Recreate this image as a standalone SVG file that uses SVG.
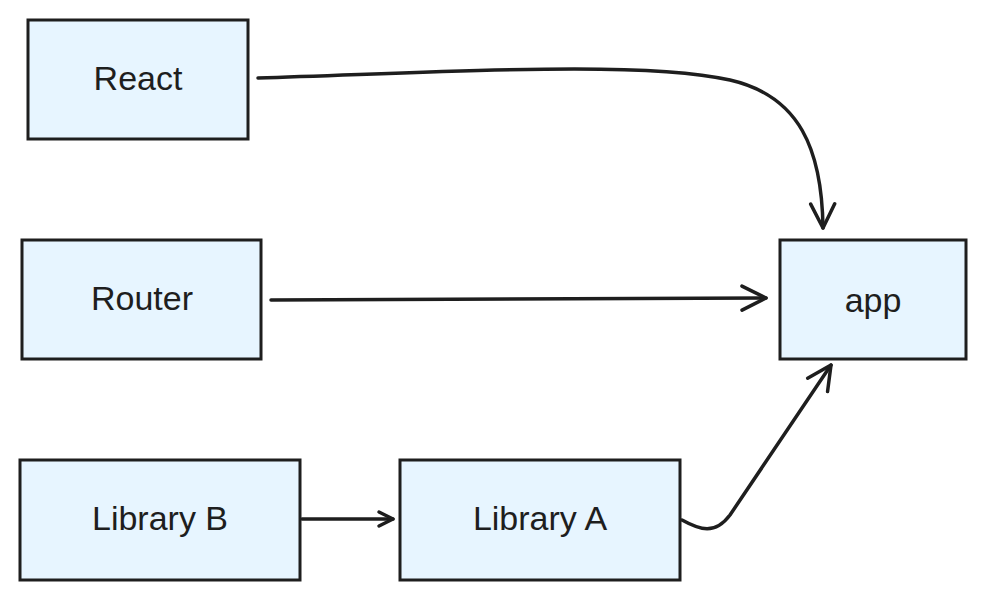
<svg xmlns="http://www.w3.org/2000/svg" width="985" height="600" viewBox="0 0 985 600">
<style>
.box{fill:#e7f5ff;stroke:#1e1e1e;stroke-width:3}
.lbl{font-family:"Liberation Sans",Arial,sans-serif;font-size:34px;fill:#1e1e1e;text-anchor:middle;dominant-baseline:central}
.con{fill:none;stroke:#1e1e1e;stroke-width:3.5;stroke-linecap:round;stroke-linejoin:round}
</style>
<defs>
<marker id="ah" viewBox="0 0 30 30" refX="26" refY="15" markerWidth="30" markerHeight="30" markerUnits="userSpaceOnUse" orient="auto">
<path d="M2,3 L26,15 L2,27" fill="none" stroke="#1e1e1e" stroke-width="3.5" stroke-linecap="round" stroke-linejoin="round"/>
</marker>
<marker id="ahs" viewBox="0 0 20 20" refX="17" refY="10" markerWidth="20" markerHeight="20" markerUnits="userSpaceOnUse" orient="auto">
<path d="M3,3 L17,10 L3,17" fill="none" stroke="#1e1e1e" stroke-width="3.5" stroke-linecap="round" stroke-linejoin="round"/>
</marker>
</defs>
<g id="react"><rect class="box" x="28" y="20" width="220" height="119"/><text class="lbl" x="138" y="78">React</text></g>
<g id="router"><rect class="box" x="22" y="240" width="239" height="119"/><text class="lbl" x="142" y="298">Router</text></g>
<g id="libb"><rect class="box" x="20" y="460" width="280" height="120"/><text class="lbl" x="160" y="518">Library B</text></g>
<g id="liba"><rect class="box" x="400" y="460" width="280" height="120"/><text class="lbl" x="540" y="518">Library A</text></g>
<g id="app"><rect class="box" x="780" y="240" width="186" height="119"/><text class="lbl" x="873" y="300">app</text></g>
<g id="connectors">
<path class="con" marker-end="url(#ah)" d="M258,78 C450,72 640,60 730,80 C800,96 822,150 823,228"/>
<path class="con" marker-end="url(#ah)" d="M271,300 L766,298"/>
<path class="con" marker-end="url(#ahs)" d="M302,519 L393,519"/>
<path class="con" marker-end="url(#ah)" d="M682,520 C700,530 715,535 730,515 L831,365"/>
</g>
</svg>
